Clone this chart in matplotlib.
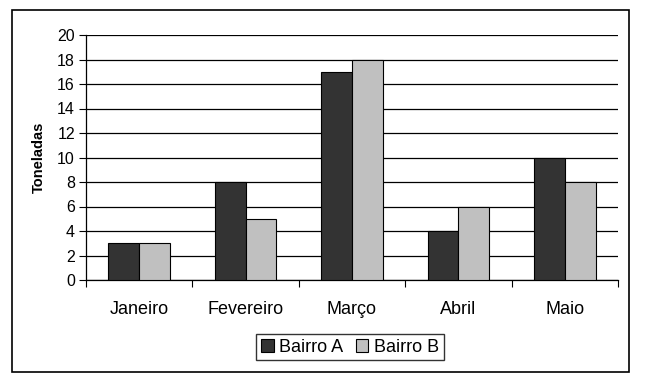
import numpy as np
import matplotlib.pyplot as plt
from matplotlib.patches import Rectangle

plt.rcParams["font.family"] = ["Liberation Sans", "DejaVu Sans"]

meses = ["Janeiro", "Fevereiro", "Março", "Abril", "Maio"]
bairro_a = [3, 8, 17, 4, 10]
bairro_b = [3, 5, 18, 6, 8]

fig = plt.figure(figsize=(6.45, 3.81), dpi=100)
ax = fig.add_axes([86 / 645, 1 - 280 / 381, 532 / 645, 245 / 381])

x = np.arange(len(meses))
w = 0.29
ax.bar(x - w / 2, bairro_a, w, color="#333333", edgecolor="black", linewidth=0.8,
       label="Bairro A", zorder=3)
ax.bar(x + w / 2, bairro_b, w, color="#c0c0c0", edgecolor="black", linewidth=0.8,
       label="Bairro B", zorder=3)

ax.set_xlim(-0.5, len(meses) - 0.5)
ax.set_ylim(0, 20)
ax.set_yticks(range(0, 21, 2))
ax.yaxis.grid(True, color="black", linewidth=0.9, zorder=0)

ax.set_xticks(np.arange(len(meses) + 1) - 0.5)
ax.set_xticklabels([])
ax.set_xticks(x, minor=True)
ax.set_xticklabels(meses, minor=True, fontsize=13)
ax.tick_params(axis="x", which="major", direction="out", length=5, width=0.8)
ax.tick_params(axis="x", which="minor", length=0, pad=15)
ax.tick_params(axis="y", direction="out", length=5, width=0.8, labelsize=11.5, pad=3)

for s in ["top", "right"]:
    ax.spines[s].set_visible(False)
for s in ["left", "bottom"]:
    ax.spines[s].set_color("black")
    ax.spines[s].set_linewidth(0.9)

ax.set_ylabel("Toneladas", fontsize=10.5, fontweight="bold", labelpad=8)

fig.legend(loc="center", bbox_to_anchor=(350 / 645, 1 - 347 / 381), ncol=2,
           fontsize=13, frameon=True, fancybox=False, edgecolor="black",
           handlelength=0.7, handleheight=0.7, handletextpad=0.3,
           columnspacing=0.7, borderpad=0.25)

fig.patches.append(Rectangle((12 / 645, 1 - 372 / 381), 617 / 645, 362 / 381,
                             transform=fig.transFigure, fill=False,
                             edgecolor="black", linewidth=1.2))

fig.savefig("out.png", dpi=100, facecolor="white")
